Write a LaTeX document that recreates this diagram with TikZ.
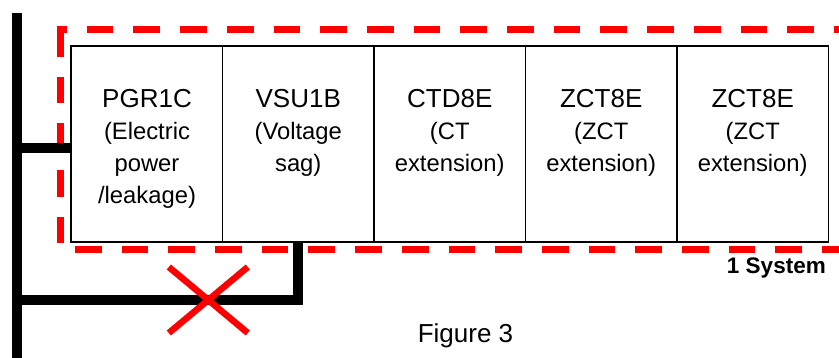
\documentclass[tikz,border=0pt]{standalone}
\usepackage{fontspec}
\setmainfont{Liberation Sans}
\usetikzlibrary{calc}
\tikzset{
  modbox/.style={draw=black, line width=1.5pt, minimum width=151.5pt, minimum height=196pt, inner sep=0pt, fill=white},
  modtext/.style={anchor=base, align=center, inner sep=0pt, font=\fontsize{23.8}{32.1}\selectfont},
  bus/.style={line width=10pt, black, line cap=butt, line join=miter},
  sysline/.style={red, line width=6.7pt, line cap=butt, line join=miter, dash pattern=on 26.7pt off 20pt},
  cross/.style={red, line width=6.5pt, line cap=butt},
}
\begin{document}
\begin{tikzpicture}[x=1pt,y=-1pt]
\useasboundingbox (0,0) rectangle (839,358);
\clip (0,0) rectangle (839,358);
% red dashed system frame
\draw[sysline, dash phase=17.35pt] (57.35,29.5) -- (860,29.5);
\draw[sysline] (60.7,30) -- (60.7,249.3) -- (860,249.3);
% modules
\node[modbox] (b1) at (146.75,144) {};
\node[modbox] (b2) at (298.25,144) {};
\node[modbox] (b3) at (449.75,144) {};
\node[modbox] (b4) at (601.25,144) {};
\node[modbox] (b5) at (752.75,144) {};
% text nodes: base anchor is the baseline of the last line
\node[modtext] (t1) at (147,203.5) {{\fontsize{26}{32.1}\selectfont PGR1C}\\(Electric\\power\\/leakage)};
\node[modtext] (t2) at (298.25,171.5) {{\fontsize{26}{32.1}\selectfont VSU1B}\\(Voltage\\sag)};
\node[modtext] (t3) at (449.75,171.5) {{\fontsize{26}{32.1}\selectfont CTD8E}\\(CT\\extension)};
\node[modtext] (t4) at (601.25,171.5) {{\fontsize{26}{32.1}\selectfont ZCT8E}\\(ZCT\\extension)};
\node[modtext] (t5) at (752.75,171.5) {{\fontsize{26}{32.1}\selectfont ZCT8E}\\(ZCT\\extension)};
% bus and wiring
\coordinate (bt) at (17,12.7);
\coordinate (bb) at (17,370);
\coordinate (j1) at (17,148);
\coordinate (j2) at (17,300);
\draw[bus] (bt) -- (bb);
\draw[bus] (j1) -- (j1 -| b1.west);
\draw[bus] (b2.south) |- (j2);
% red cross
\coordinate (xc) at (208.3,300);
\draw[cross] ($(xc)+(-39.5,-33)$) -- ($(xc)+(39.5,33)$);
\draw[cross] ($(xc)+(39.5,-33)$) -- ($(xc)+(-39.5,33)$);
% labels
\node[anchor=base east, inner sep=0pt, font=\fontsize{22.5}{27}\selectfont\bfseries] (sys) at (826,274) {1 System};
\node[anchor=base, inner sep=0pt, font=\fontsize{26}{31}\selectfont] (fig) at (465.5,343) {Figure 3};
\end{tikzpicture}
\end{document}
